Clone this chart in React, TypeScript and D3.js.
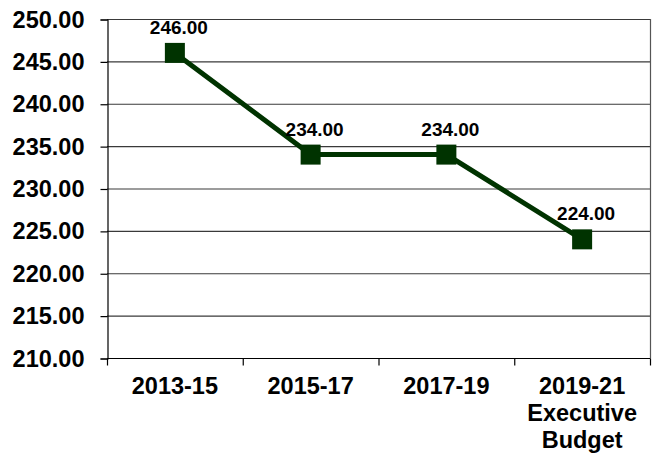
import React, { useEffect, useRef } from 'react';
import * as d3 from 'd3';

const categories = ['2013-15', '2015-17', '2017-19', '2019-21 Executive Budget'];
const categoryLines = [['2013-15'], ['2015-17'], ['2017-19'], ['2019-21', 'Executive', 'Budget']];
const values = [246, 234, 234, 224];
const yTicks = [210, 215, 220, 225, 230, 235, 240, 245, 250];

const App = () => {
  const svgRef = useRef<SVGSVGElement>(null);

  useEffect(() => {
    const width = 652;
    const height = 454;
    const margin = { top: 19, right: 2, bottom: 96, left: 107 };

    d3.select(svgRef.current).selectAll('*').remove();

    const svg = d3.select(svgRef.current)
      .attr('width', width)
      .attr('height', height)
      .style('font-family', '"Liberation Sans", Arial, sans-serif');

    const x = d3.scaleBand<string>()
      .domain(categories)
      .range([margin.left, width - margin.right])
      .padding(0);

    const y = d3.scaleLinear()
      .domain([210, 250])
      .range([height - margin.bottom, margin.top]);

    // gridlines
    svg.append('g')
      .selectAll('line')
      .data(yTicks)
      .enter()
      .append('line')
      .attr('x1', margin.left)
      .attr('x2', width - margin.right)
      .attr('y1', d => y(d) + 0.5)
      .attr('y2', d => y(d) + 0.5)
      .attr('stroke', '#3a3a3a')
      .attr('stroke-width', 1.2);

    // right border
    svg.append('line')
      .attr('x1', width - margin.right + 0.5)
      .attr('x2', width - margin.right + 0.5)
      .attr('y1', margin.top)
      .attr('y2', y(210))
      .attr('stroke', '#555')
      .attr('stroke-width', 1.2);

    // y axis
    const yAxis = svg.append('g')
      .attr('transform', `translate(${margin.left + 0.5},0.5)`)
      .call(d3.axisLeft(y).tickValues(yTicks).tickSize(7).tickPadding(16).tickFormat(d => d3.format('.2f')(d as number)));
    yAxis.select('.domain').attr('stroke', '#000').attr('stroke-width', 1.2);
    yAxis.selectAll('line').attr('stroke', '#000').attr('stroke-width', 1.2);
    yAxis.selectAll('text')
      .style('font-family', '"Liberation Sans", Arial, sans-serif')
      .style('font-size', '23.5px')
      .style('font-weight', 'bold')
      .attr('fill', '#000');

    // x axis
    const xAxis = svg.append('g')
      .attr('transform', `translate(0.5,${y(210) + 0.5})`);
    xAxis.append('line')
      .attr('x1', margin.left)
      .attr('x2', width - margin.right)
      .attr('stroke', '#000')
      .attr('stroke-width', 1.2);
    const bounds = categories.map(c => x(c) as number).concat([width - margin.right]);
    xAxis.selectAll('.tick')
      .data(bounds)
      .enter()
      .append('line')
      .attr('x1', d => d)
      .attr('x2', d => d)
      .attr('y1', 0)
      .attr('y2', 7)
      .attr('stroke', '#000')
      .attr('stroke-width', 1.2);

    categories.forEach((c, i) => {
      const t = svg.append('text')
        .attr('x', (x(c) as number) + x.bandwidth() / 2)
        .attr('y', 394)
        .attr('text-anchor', 'middle')
        .style('font-size', '23.5px')
        .style('font-weight', 'bold')
        .attr('fill', '#000');
      categoryLines[i].forEach((line, j) => {
        t.append('tspan')
          .attr('x', (x(c) as number) + x.bandwidth() / 2)
          .attr('dy', j === 0 ? 0 : 27)
          .text(line);
      });
    });

    const cx = (i: number) => (x(categories[i]) as number) + x.bandwidth() / 2;

    const line = d3.line<number>()
      .x((_, i) => cx(i))
      .y(d => y(d));

    svg.append('path')
      .datum(values)
      .attr('d', line)
      .attr('fill', 'none')
      .attr('stroke', '#003300')
      .attr('stroke-width', 5);

    const size = 20;
    svg.selectAll('.marker')
      .data(values)
      .enter()
      .append('rect')
      .attr('class', 'marker')
      .attr('x', (_, i) => cx(i) - size / 2)
      .attr('y', d => y(d) - size / 2)
      .attr('width', size)
      .attr('height', size)
      .attr('fill', '#003300');

    svg.selectAll('.label')
      .data(values)
      .enter()
      .append('text')
      .attr('class', 'label')
      .attr('x', (_, i) => cx(i) + 4)
      .attr('y', d => y(d) - 19)
      .attr('text-anchor', 'middle')
      .style('font-size', '19px')
      .style('font-weight', 'bold')
      .attr('fill', '#000')
      .text(d => d3.format('.2f')(d));
  }, []);

  return (
    <svg ref={svgRef} style={{ position: 'absolute', left: 0, top: 0, display: 'block', background: '#fff' }}></svg>
  );
};

export default App;
